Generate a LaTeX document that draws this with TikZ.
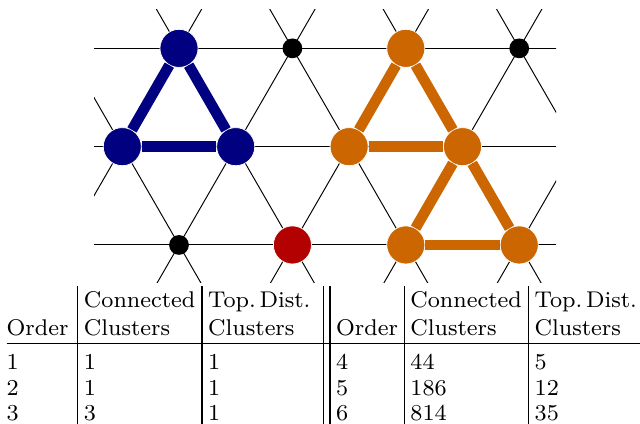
\documentclass[tikz,border=0pt]{standalone}
\usepackage{array}
\definecolor{clusterblue}{RGB}{0,0,128}
\definecolor{clusterorange}{RGB}{204,102,0}
\definecolor{clusterred}{RGB}{179,0,0}
\tikzset{
    site/.style={circle, fill=#1, draw=white, line width=0.3pt, inner sep=0pt, minimum size=15.8pt},
    smallsite/.style={circle, fill=black, inner sep=0pt, minimum size=8.2pt},
    bond/.style={draw=#1, line width=4.4pt},
    lattice/.style={line width=0.4pt}
}

\begin{document}
\begin{tikzpicture}[x=47.06pt, y=40.79pt]
        \useasboundingbox (-1.0785,-2.821) rectangle (4.565,1.492);

        % triangular lattice
        \begin{scope}
            \clip (-0.249,-1.387) rectangle (3.825,1.391);
            \foreach \j in {-1,0,1}
                \draw[lattice] (-2,\j) -- (6,\j);
            \foreach \i in {-1,...,5} {
                \draw[lattice] (\i-1.5,-3) -- (\i+1.5,3);
                \draw[lattice] (\i+1.5,-3) -- (\i-1.5,3);
            }
        \end{scope}

        \node[site=clusterblue] (b1) at (0.5, 1) {};
        \node[site=clusterblue] (b2) at (0, 0) {};
        \node[site=clusterblue] (b3) at (1, 0) {};
        \draw[bond=clusterblue] (b1) -- (b2);
        \draw[bond=clusterblue] (b1) -- (b3);
        \draw[bond=clusterblue] (b2) -- (b3);

        \node[smallsite] (k1) at (1.5, 1) {};
        \node[smallsite] (k2) at (3.5, 1) {};
        \node[smallsite] (k3) at (0.5, -1) {};
        \node[site=clusterred] (r1) at (1.5, -1) {};

        \node[site=clusterorange] (o1) at (2.5, 1) {};
        \node[site=clusterorange] (o2) at (2, 0) {};
        \node[site=clusterorange] (o3) at (3, 0) {};
        \node[site=clusterorange] (o4) at (2.5, -1) {};
        \node[site=clusterorange] (o5) at (3.5, -1) {};
        \draw[bond=clusterorange] (o1) -- (o2);
        \draw[bond=clusterorange] (o1) -- (o3);
        \draw[bond=clusterorange] (o2) -- (o3);
        \draw[bond=clusterorange] (o3) -- (o4);
        \draw[bond=clusterorange] (o3) -- (o5);
        \draw[bond=clusterorange] (o4) -- (o5);

        % cluster counts
        \node[anchor=north west, inner sep=0pt, font=\footnotesize, scale=1.18] (counts) at (-1.025, -1.407) {%
            \renewcommand{\arraystretch}{0.944}\setlength{\tabcolsep}{2pt}%
            \begin{tabular}{@{}p{22.8pt}|p{39.3pt}|p{38.2pt}||p{21.7pt}|p{39.3pt}|l}
                \rule{0pt}{7.7pt} & Connected & Top.\,Dist. & & Connected & Top.\,Dist. \\[0.9pt]
                Order & Clusters & Clusters & Order & Clusters & Clusters \\
                \hline
                \rule{0pt}{9pt}1 & 1 & 1 & 4 & 44 & 5 \\
                2 & 1 & 1 & 5 & 186 & 12 \\
                3 & 3 & 1 & 6 & 814 & 35
            \end{tabular}};
\end{tikzpicture}
\end{document}
